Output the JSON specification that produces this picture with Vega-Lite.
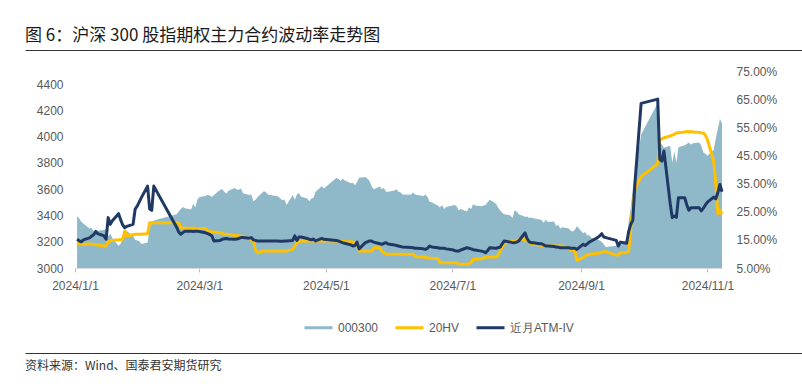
{
  "$schema": "https://vega.github.io/schema/vega-lite/v6.json",
  "background": "white",
  "padding": {"left": 25, "top": 27, "right": 0, "bottom": 0},
  "title": {"text": "图 6：沪深 300 股指期权主力合约波动率走势图", "anchor": "start", "fontSize": 17, "font": "Noto Sans CJK SC", "fontWeight": "normal", "color": "#1a1a1a", "offset": 5},
  "config": {"view": {"stroke": null}, "font": "Liberation Sans", "axis": {"labelOverlap": false, "labelBound": false}},
  "datasets": {
    "d": [
      {"d":"2024-01-02","hs":3396,"hv":0.140,"iv":0.152},
      {"d":"2024-01-03","hs":3378,"hv":0.137,"iv":0.147},
      {"d":"2024-01-04","hs":3352,"hv":0.135,"iv":0.143},
      {"d":"2024-01-05","hs":3338,"hv":0.134,"iv":0.150},
      {"d":"2024-01-08","hs":3300,"hv":0.135,"iv":0.157},
      {"d":"2024-01-09","hs":3305,"hv":0.134,"iv":0.163},
      {"d":"2024-01-10","hs":3280,"hv":0.134,"iv":0.168},
      {"d":"2024-01-11","hs":3290,"hv":0.133,"iv":0.180},
      {"d":"2024-01-12","hs":3284,"hv":0.132,"iv":0.172},
      {"d":"2024-01-15","hs":3290,"hv":0.128,"iv":0.164},
      {"d":"2024-01-16","hs":3295,"hv":0.128,"iv":0.152},
      {"d":"2024-01-17","hs":3240,"hv":0.144,"iv":0.229},
      {"d":"2024-01-18","hs":3260,"hv":0.146,"iv":0.205},
      {"d":"2024-01-19","hs":3228,"hv":0.148,"iv":0.218},
      {"d":"2024-01-22","hs":3170,"hv":0.150,"iv":0.243},
      {"d":"2024-01-23","hs":3185,"hv":0.150,"iv":0.222},
      {"d":"2024-01-24","hs":3225,"hv":0.152,"iv":0.203},
      {"d":"2024-01-25","hs":3290,"hv":0.181,"iv":0.193},
      {"d":"2024-01-26","hs":3280,"hv":0.164,"iv":0.198},
      {"d":"2024-01-29","hs":3245,"hv":0.168,"iv":0.205},
      {"d":"2024-01-30","hs":3215,"hv":0.170,"iv":0.259},
      {"d":"2024-01-31","hs":3210,"hv":0.170,"iv":0.270},
      {"d":"2024-02-01","hs":3205,"hv":0.170,"iv":0.285},
      {"d":"2024-02-02","hs":3182,"hv":0.170,"iv":0.300},
      {"d":"2024-02-05","hs":3195,"hv":0.172,"iv":0.341},
      {"d":"2024-02-06","hs":3305,"hv":0.211,"iv":0.260},
      {"d":"2024-02-07","hs":3340,"hv":0.211,"iv":0.255},
      {"d":"2024-02-08","hs":3362,"hv":0.211,"iv":0.341},
      {"d":"2024-02-19","hs":3410,"hv":0.211,"iv":0.195},
      {"d":"2024-02-20","hs":3430,"hv":0.211,"iv":0.178},
      {"d":"2024-02-21","hs":3450,"hv":0.193,"iv":0.170},
      {"d":"2024-02-22","hs":3465,"hv":0.192,"iv":0.176},
      {"d":"2024-02-23","hs":3455,"hv":0.191,"iv":0.181},
      {"d":"2024-02-26","hs":3445,"hv":0.191,"iv":0.181},
      {"d":"2024-02-27","hs":3490,"hv":0.191,"iv":0.180},
      {"d":"2024-02-28","hs":3460,"hv":0.191,"iv":0.181},
      {"d":"2024-02-29","hs":3520,"hv":0.190,"iv":0.181},
      {"d":"2024-03-01","hs":3540,"hv":0.190,"iv":0.180},
      {"d":"2024-03-04","hs":3548,"hv":0.190,"iv":0.175},
      {"d":"2024-03-05","hs":3558,"hv":0.181,"iv":0.172},
      {"d":"2024-03-06","hs":3552,"hv":0.180,"iv":0.169},
      {"d":"2024-03-07","hs":3540,"hv":0.178,"iv":0.164},
      {"d":"2024-03-08","hs":3555,"hv":0.178,"iv":0.146},
      {"d":"2024-03-11","hs":3595,"hv":0.175,"iv":0.148},
      {"d":"2024-03-12","hs":3600,"hv":0.174,"iv":0.152},
      {"d":"2024-03-13","hs":3580,"hv":0.170,"iv":0.154},
      {"d":"2024-03-14","hs":3565,"hv":0.170,"iv":0.155},
      {"d":"2024-03-15","hs":3588,"hv":0.169,"iv":0.153},
      {"d":"2024-03-18","hs":3610,"hv":0.166,"iv":0.152},
      {"d":"2024-03-19","hs":3598,"hv":0.165,"iv":0.153},
      {"d":"2024-03-20","hs":3595,"hv":0.165,"iv":0.155},
      {"d":"2024-03-21","hs":3605,"hv":0.164,"iv":0.158},
      {"d":"2024-03-22","hs":3570,"hv":0.160,"iv":0.158},
      {"d":"2024-03-25","hs":3555,"hv":0.154,"iv":0.156},
      {"d":"2024-03-26","hs":3562,"hv":0.150,"iv":0.158},
      {"d":"2024-03-27","hs":3508,"hv":0.146,"iv":0.150},
      {"d":"2024-03-28","hs":3520,"hv":0.115,"iv":0.148},
      {"d":"2024-03-29","hs":3538,"hv":0.104,"iv":0.146},
      {"d":"2024-04-01","hs":3585,"hv":0.110,"iv":0.146},
      {"d":"2024-04-02","hs":3578,"hv":0.110,"iv":0.146},
      {"d":"2024-04-03","hs":3560,"hv":0.110,"iv":0.146},
      {"d":"2024-04-08","hs":3545,"hv":0.110,"iv":0.146},
      {"d":"2024-04-09","hs":3530,"hv":0.110,"iv":0.145},
      {"d":"2024-04-10","hs":3515,"hv":0.110,"iv":0.145},
      {"d":"2024-04-11","hs":3522,"hv":0.110,"iv":0.146},
      {"d":"2024-04-12","hs":3480,"hv":0.110,"iv":0.146},
      {"d":"2024-04-15","hs":3555,"hv":0.116,"iv":0.148},
      {"d":"2024-04-16","hs":3520,"hv":0.128,"iv":0.164},
      {"d":"2024-04-17","hs":3560,"hv":0.140,"iv":0.148},
      {"d":"2024-04-18","hs":3572,"hv":0.144,"iv":0.160},
      {"d":"2024-04-19","hs":3542,"hv":0.146,"iv":0.160},
      {"d":"2024-04-22","hs":3530,"hv":0.146,"iv":0.155},
      {"d":"2024-04-23","hs":3508,"hv":0.146,"iv":0.152},
      {"d":"2024-04-24","hs":3530,"hv":0.146,"iv":0.150},
      {"d":"2024-04-25","hs":3535,"hv":0.146,"iv":0.153},
      {"d":"2024-04-26","hs":3580,"hv":0.146,"iv":0.146},
      {"d":"2024-04-29","hs":3622,"hv":0.146,"iv":0.155},
      {"d":"2024-04-30","hs":3605,"hv":0.146,"iv":0.152},
      {"d":"2024-05-06","hs":3685,"hv":0.146,"iv":0.148},
      {"d":"2024-05-07","hs":3680,"hv":0.146,"iv":0.146},
      {"d":"2024-05-08","hs":3662,"hv":0.145,"iv":0.143},
      {"d":"2024-05-09","hs":3680,"hv":0.145,"iv":0.140},
      {"d":"2024-05-10","hs":3668,"hv":0.144,"iv":0.138},
      {"d":"2024-05-13","hs":3645,"hv":0.143,"iv":0.132},
      {"d":"2024-05-14","hs":3650,"hv":0.142,"iv":0.128},
      {"d":"2024-05-15","hs":3630,"hv":0.141,"iv":0.130},
      {"d":"2024-05-16","hs":3652,"hv":0.140,"iv":0.142},
      {"d":"2024-05-17","hs":3688,"hv":0.110,"iv":0.118},
      {"d":"2024-05-20","hs":3692,"hv":0.110,"iv":0.140},
      {"d":"2024-05-21","hs":3680,"hv":0.110,"iv":0.143},
      {"d":"2024-05-22","hs":3665,"hv":0.110,"iv":0.146},
      {"d":"2024-05-23","hs":3625,"hv":0.110,"iv":0.146},
      {"d":"2024-05-24","hs":3600,"hv":0.122,"iv":0.142},
      {"d":"2024-05-27","hs":3620,"hv":0.122,"iv":0.136},
      {"d":"2024-05-28","hs":3600,"hv":0.110,"iv":0.134},
      {"d":"2024-05-29","hs":3610,"hv":0.104,"iv":0.138},
      {"d":"2024-05-30","hs":3580,"hv":0.099,"iv":0.140},
      {"d":"2024-05-31","hs":3580,"hv":0.099,"iv":0.135},
      {"d":"2024-06-03","hs":3590,"hv":0.099,"iv":0.132},
      {"d":"2024-06-04","hs":3600,"hv":0.099,"iv":0.130},
      {"d":"2024-06-05","hs":3580,"hv":0.099,"iv":0.128},
      {"d":"2024-06-06","hs":3575,"hv":0.099,"iv":0.126},
      {"d":"2024-06-07","hs":3560,"hv":0.099,"iv":0.125},
      {"d":"2024-06-11","hs":3558,"hv":0.099,"iv":0.123},
      {"d":"2024-06-12","hs":3575,"hv":0.099,"iv":0.122},
      {"d":"2024-06-13","hs":3560,"hv":0.092,"iv":0.120},
      {"d":"2024-06-14","hs":3555,"hv":0.090,"iv":0.120},
      {"d":"2024-06-17","hs":3548,"hv":0.089,"iv":0.118},
      {"d":"2024-06-18","hs":3560,"hv":0.089,"iv":0.116},
      {"d":"2024-06-19","hs":3540,"hv":0.086,"iv":0.120},
      {"d":"2024-06-20","hs":3505,"hv":0.085,"iv":0.128},
      {"d":"2024-06-21","hs":3500,"hv":0.084,"iv":0.125},
      {"d":"2024-06-24","hs":3475,"hv":0.084,"iv":0.122},
      {"d":"2024-06-25","hs":3460,"hv":0.069,"iv":0.120},
      {"d":"2024-06-26","hs":3480,"hv":0.069,"iv":0.120},
      {"d":"2024-06-27","hs":3450,"hv":0.069,"iv":0.120},
      {"d":"2024-06-28","hs":3465,"hv":0.069,"iv":0.118},
      {"d":"2024-07-01","hs":3475,"hv":0.069,"iv":0.115},
      {"d":"2024-07-02","hs":3480,"hv":0.069,"iv":0.112},
      {"d":"2024-07-03","hs":3470,"hv":0.069,"iv":0.110},
      {"d":"2024-07-04","hs":3440,"hv":0.063,"iv":0.110},
      {"d":"2024-07-05","hs":3450,"hv":0.063,"iv":0.114},
      {"d":"2024-07-08","hs":3430,"hv":0.063,"iv":0.122},
      {"d":"2024-07-09","hs":3460,"hv":0.065,"iv":0.120},
      {"d":"2024-07-10","hs":3450,"hv":0.069,"iv":0.118},
      {"d":"2024-07-11","hs":3485,"hv":0.081,"iv":0.115},
      {"d":"2024-07-12","hs":3475,"hv":0.081,"iv":0.114},
      {"d":"2024-07-15","hs":3470,"hv":0.083,"iv":0.110},
      {"d":"2024-07-16","hs":3475,"hv":0.085,"iv":0.108},
      {"d":"2024-07-17","hs":3480,"hv":0.089,"iv":0.104},
      {"d":"2024-07-18","hs":3500,"hv":0.089,"iv":0.112},
      {"d":"2024-07-19","hs":3520,"hv":0.089,"iv":0.122},
      {"d":"2024-07-22","hs":3490,"hv":0.089,"iv":0.120},
      {"d":"2024-07-23","hs":3460,"hv":0.095,"iv":0.122},
      {"d":"2024-07-24","hs":3440,"hv":0.110,"iv":0.124},
      {"d":"2024-07-25","hs":3420,"hv":0.125,"iv":0.136},
      {"d":"2024-07-26","hs":3410,"hv":0.136,"iv":0.146},
      {"d":"2024-07-29","hs":3400,"hv":0.146,"iv":0.142},
      {"d":"2024-07-30","hs":3380,"hv":0.146,"iv":0.140},
      {"d":"2024-07-31","hs":3440,"hv":0.146,"iv":0.140},
      {"d":"2024-08-01","hs":3430,"hv":0.146,"iv":0.142},
      {"d":"2024-08-02","hs":3410,"hv":0.150,"iv":0.146},
      {"d":"2024-08-05","hs":3390,"hv":0.152,"iv":0.175},
      {"d":"2024-08-06","hs":3392,"hv":0.146,"iv":0.155},
      {"d":"2024-08-07","hs":3380,"hv":0.143,"iv":0.143},
      {"d":"2024-08-08","hs":3385,"hv":0.134,"iv":0.140},
      {"d":"2024-08-09","hs":3378,"hv":0.134,"iv":0.140},
      {"d":"2024-08-12","hs":3370,"hv":0.132,"iv":0.136},
      {"d":"2024-08-13","hs":3365,"hv":0.130,"iv":0.136},
      {"d":"2024-08-14","hs":3345,"hv":0.128,"iv":0.132},
      {"d":"2024-08-15","hs":3370,"hv":0.128,"iv":0.128},
      {"d":"2024-08-16","hs":3350,"hv":0.128,"iv":0.128},
      {"d":"2024-08-19","hs":3355,"hv":0.128,"iv":0.126},
      {"d":"2024-08-20","hs":3320,"hv":0.128,"iv":0.125},
      {"d":"2024-08-21","hs":3330,"hv":0.128,"iv":0.124},
      {"d":"2024-08-22","hs":3300,"hv":0.128,"iv":0.122},
      {"d":"2024-08-23","hs":3310,"hv":0.128,"iv":0.122},
      {"d":"2024-08-26","hs":3300,"hv":0.120,"iv":0.122},
      {"d":"2024-08-27","hs":3285,"hv":0.113,"iv":0.120},
      {"d":"2024-08-28","hs":3278,"hv":0.113,"iv":0.120},
      {"d":"2024-08-29","hs":3290,"hv":0.113,"iv":0.120},
      {"d":"2024-08-30","hs":3320,"hv":0.077,"iv":0.116},
      {"d":"2024-09-02","hs":3265,"hv":0.087,"iv":0.134},
      {"d":"2024-09-03","hs":3275,"hv":0.093,"iv":0.130},
      {"d":"2024-09-04","hs":3250,"hv":0.096,"iv":0.136},
      {"d":"2024-09-05","hs":3250,"hv":0.098,"iv":0.142},
      {"d":"2024-09-06","hs":3230,"hv":0.100,"iv":0.146},
      {"d":"2024-09-09","hs":3215,"hv":0.102,"iv":0.158},
      {"d":"2024-09-10","hs":3210,"hv":0.104,"iv":0.164},
      {"d":"2024-09-11","hs":3200,"hv":0.106,"iv":0.172},
      {"d":"2024-09-12","hs":3180,"hv":0.108,"iv":0.160},
      {"d":"2024-09-13","hs":3160,"hv":0.108,"iv":0.158},
      {"d":"2024-09-18","hs":3170,"hv":0.096,"iv":0.148},
      {"d":"2024-09-19","hs":3190,"hv":0.096,"iv":0.128},
      {"d":"2024-09-20","hs":3185,"hv":0.104,"iv":0.142},
      {"d":"2024-09-23","hs":3200,"hv":0.104,"iv":0.138},
      {"d":"2024-09-24","hs":3352,"hv":0.110,"iv":0.180},
      {"d":"2024-09-25","hs":3460,"hv":0.190,"iv":0.205},
      {"d":"2024-09-26","hs":3610,"hv":0.270,"iv":0.220},
      {"d":"2024-09-27","hs":3700,"hv":0.330,"iv":0.350},
      {"d":"2024-09-30","hs":4017,"hv":0.375,"iv":0.635},
      {"d":"2024-10-08","hs":4256,"hv":0.420,"iv":0.650},
      {"d":"2024-10-09","hs":3955,"hv":0.505,"iv":0.436},
      {"d":"2024-10-10","hs":3940,"hv":0.508,"iv":0.430},
      {"d":"2024-10-11","hs":3915,"hv":0.513,"iv":0.466},
      {"d":"2024-10-14","hs":3930,"hv":0.519,"iv":0.280},
      {"d":"2024-10-15","hs":3800,"hv":0.522,"iv":0.229},
      {"d":"2024-10-16","hs":3890,"hv":0.525,"iv":0.235},
      {"d":"2024-10-17","hs":3800,"hv":0.530,"iv":0.230},
      {"d":"2024-10-18","hs":3920,"hv":0.531,"iv":0.300},
      {"d":"2024-10-21","hs":3935,"hv":0.533,"iv":0.300},
      {"d":"2024-10-22","hs":3945,"hv":0.535,"iv":0.275},
      {"d":"2024-10-23","hs":3955,"hv":0.533,"iv":0.255},
      {"d":"2024-10-24","hs":3940,"hv":0.535,"iv":0.264},
      {"d":"2024-10-25","hs":3950,"hv":0.533,"iv":0.264},
      {"d":"2024-10-28","hs":3955,"hv":0.532,"iv":0.264},
      {"d":"2024-10-29","hs":3930,"hv":0.530,"iv":0.253},
      {"d":"2024-10-30","hs":3880,"hv":0.530,"iv":0.262},
      {"d":"2024-10-31","hs":3870,"hv":0.522,"iv":0.274},
      {"d":"2024-11-01","hs":3855,"hv":0.505,"iv":0.284},
      {"d":"2024-11-04","hs":3900,"hv":0.430,"iv":0.302},
      {"d":"2024-11-05","hs":3985,"hv":0.350,"iv":0.296},
      {"d":"2024-11-06","hs":4060,"hv":0.243,"iv":0.318},
      {"d":"2024-11-07","hs":4135,"hv":0.256,"iv":0.347},
      {"d":"2024-11-08","hs":4100,"hv":0.241,"iv":0.321}
    ]
  },
  "concat": [
    {
      "width": 777, "height": 1,
      "data": {"values": []},
      "mark": "point",
      "encoding": {
        "x": {"field": "a", "type": "quantitative", "scale": {"domain": [0, 1]},
          "axis": {"orient": "top", "title": null, "labels": false, "ticks": false, "grid": false,
            "domainColor": "#333333", "domainWidth": 1, "position": -50, "offset": 0}}
      }
    },
    {
      "width": 647, "height": 197,
      "data": {"name": "d"},
      "layer": [
        {
          "mark": {"type": "area", "opacity": 1},
          "encoding": {
            "x": {"field": "d", "type": "temporal",
              "scale": {"type": "utc", "domain": [{"year": 2024, "month": 1, "date": 1, "utc": true}, {"year": 2024, "month": 11, "date": 8, "utc": true}]},
              "axis": {"title": null, "grid": false,
                "values": [{"year": 2024, "month": 1, "date": 1, "utc": true}, {"year": 2024, "month": 3, "date": 1, "utc": true}, {"year": 2024, "month": 5, "date": 1, "utc": true}, {"year": 2024, "month": 7, "date": 1, "utc": true}, {"year": 2024, "month": 9, "date": 1, "utc": true}, {"year": 2024, "month": 11, "date": 1, "utc": true}],
                "labelExpr": "utcFormat(datum.value, '%Y/%-m/%-d')",
                "labelFlush": false, "labelOverlap": false,
                "domainColor": "#d9d9d9", "tickColor": "#bfbfbf", "tickSize": 4,
                "labelPadding": 8, "labelFontSize": 12, "labelColor": "#595959", "labelFont": "Liberation Sans"}},
            "y": {"field": "hs", "type": "quantitative",
              "scale": {"domain": [3000, 4500], "zero": false, "nice": false},
              "axis": {"orient": "left", "title": null, "grid": false, "domain": false, "ticks": false,
                "values": [3000, 3200, 3400, 3600, 3800, 4000, 4200, 4400], "labelOverlap": false,
                "format": "d", "labelPadding": 12, "minExtent": 50,
                "labelFontSize": 12, "labelColor": "#595959", "labelFont": "Liberation Sans"}},
            "y2": {"datum": 3000},
            "color": {"datum": "000300", "type": "nominal",
              "scale": {"domain": ["000300", "20HV", "近月ATM-IV"], "range": ["#8fb9c9", "#ffc000", "#1f3864"]},
              "legend": {"orient": "none", "legendX": 223, "legendY": 236, "padding": 5,
                "direction": "horizontal", "columns": 3, "title": null,
                "symbolType": "stroke", "symbolSize": 784, "symbolStrokeWidth": 3,
                "labelFontSize": 12, "labelColor": "#595959", "labelFont": "Liberation Sans",
                "labelOffset": 4, "columnPadding": 10,
                "encode": {"symbols": {"update": {
                  "stroke": {"scale": "color", "field": "value"},
                  "fill": {"value": "transparent"},
                  "opacity": {"value": 1},
                  "strokeWidth": {"signal": "datum.value === '000300' ? 7 : 3"}}}}}}
          }
        },
        {
          "layer": [
            {
              "mark": {"type": "line", "strokeWidth": 3, "strokeJoin": "round"},
              "encoding": {
                "x": {"field": "d", "type": "temporal"},
                "y": {"field": "hv", "type": "quantitative",
                  "scale": {"domain": [0.05, 0.75], "zero": false, "nice": false},
                  "axis": {"orient": "right", "title": null, "grid": false, "domain": false, "ticks": false,
                    "values": [0.05, 0.15, 0.25, 0.35, 0.45, 0.55, 0.65, 0.75], "labelOverlap": false,
                    "format": ".2%", "labelPadding": 14,
                    "labelFontSize": 12, "labelColor": "#595959", "labelFont": "Liberation Sans"}},
                "color": {"datum": "20HV", "type": "nominal"}
              }
            },
            {
              "mark": {"type": "line", "strokeWidth": 3, "strokeJoin": "round"},
              "encoding": {
                "x": {"field": "d", "type": "temporal"},
                "y": {"field": "iv", "type": "quantitative",
                  "axis": {"orient": "right", "title": null, "grid": false, "domain": false, "ticks": false,
                    "values": [0.05, 0.15, 0.25, 0.35, 0.45, 0.55, 0.65, 0.75], "labelOverlap": false,
                    "format": ".2%", "labelPadding": 14,
                    "labelFontSize": 12, "labelColor": "#595959", "labelFont": "Liberation Sans"}},
                "color": {"datum": "近月ATM-IV", "type": "nominal"}
              }
            }
          ]
        }
      ],
      "resolve": {"scale": {"y": "independent"}}
    },
    {
      "width": 777, "height": 1,
      "data": {"values": []},
      "mark": "point",
      "encoding": {
        "x": {"field": "a", "type": "quantitative", "scale": {"domain": [0, 1]},
          "axis": {"orient": "top", "title": null, "labels": false, "ticks": false, "grid": false,
            "domainColor": "#333333", "domainWidth": 1, "position": -50, "offset": 0}}
      },
      "title": {"text": "资料来源：Wind、国泰君安期货研究", "orient": "bottom", "anchor": "start", "offset": 7,
        "fontSize": 12, "font": "Noto Sans CJK SC", "fontWeight": "normal", "color": "#333333"}
    }
  ],
  "columns": 1,
  "spacing": 14,
  "resolve": {"scale": {"color": "independent"}, "legend": {"color": "independent"}}
}
